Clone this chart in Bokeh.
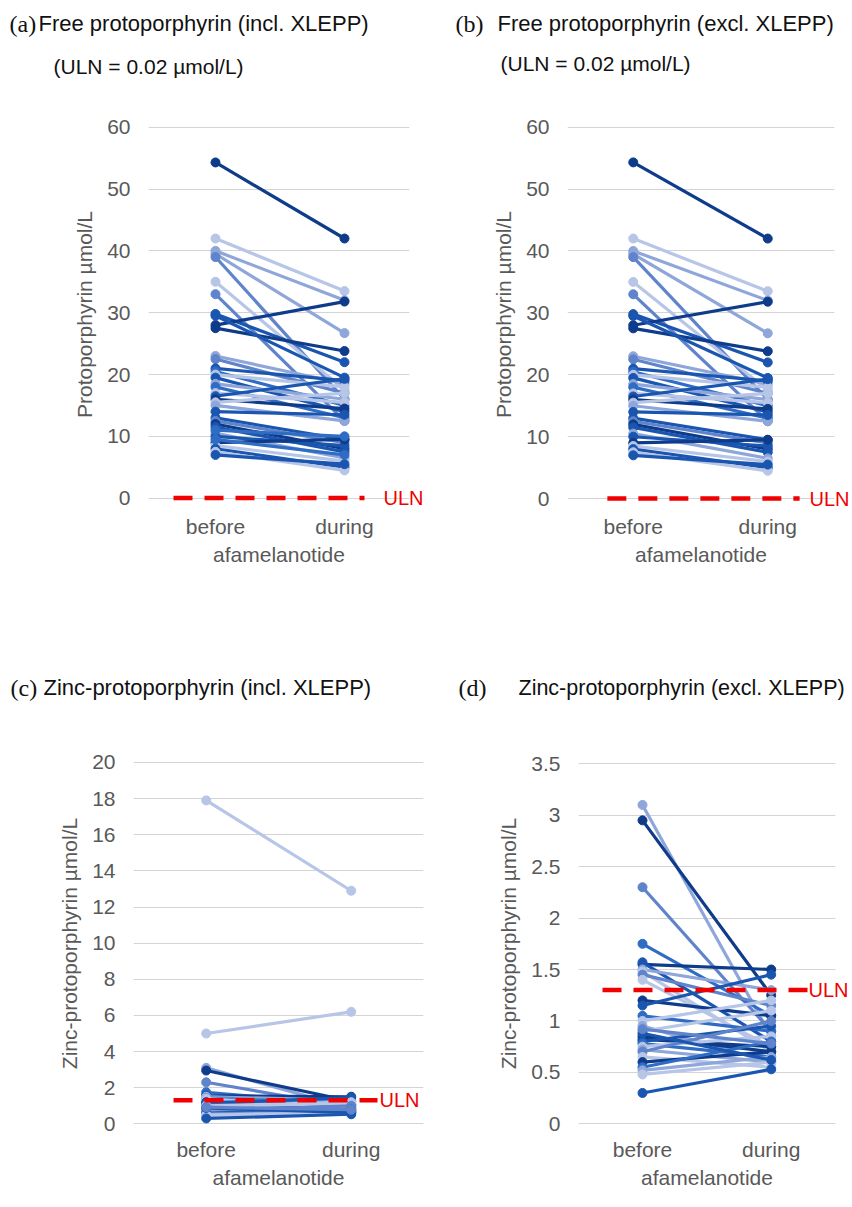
from bokeh.plotting import figure
from bokeh.models import Range1d, FixedTicker, NumeralTickFormatter, LinearAxis
from bokeh.core.properties import value
from bokeh.layouts import column, row
from bokeh.embed import file_html
from bokeh.resources import INLINE

# ---------------- data ----------------
CATEGORIES = ["before", "during"]

# Free protoporphyrin (umol/L), patients without XLEPP
FP_BEFORE_EXCL = [54.3, 42.0, 40.0, 39.5, 39.0, 35.0, 33.0, 29.8, 28.0, 27.5, 29.5, 23.0,
                  22.5, 21.0, 20.5, 20.0, 19.5, 18.5, 18.0, 17.0, 16.5, 16.0, 15.5, 15.0,
                  14.0, 13.0, 12.5, 12.0, 11.5, 10.5, 10.0, 9.0, 8.5, 8.0, 7.5, 7.0]
FP_DURING_EXCL = [42.0, 33.5, 32.0, 26.7, 16.0, 17.5, 12.5, 22.0, 31.8, 23.8, 19.5, 18.5,
                  17.0, 19.0, 15.0, 18.0, 14.0, 16.0, 13.0, 15.5, 19.3, 14.5, 17.0, 12.5,
                  13.5, 9.5, 9.0, 8.0, 7.5, 6.5, 8.5, 9.5, 6.0, 5.0, 4.5, 5.5]
# Free protoporphyrin, XLEPP patients
FP_BEFORE_XLEPP = [11.0, 9.5]
FP_DURING_XLEPP = [10.0, 7.0]

# Zinc-protoporphyrin (umol/L), patients without XLEPP
ZPP_BEFORE_EXCL = [3.10, 2.95, 2.30, 1.75, 1.55, 1.57, 1.50, 1.48, 1.45, 1.40, 1.20, 1.15,
                   1.05, 1.00, 0.95, 0.90, 0.85, 0.82, 0.80, 0.78, 0.75, 0.72, 0.70, 0.65,
                   0.60, 0.55, 0.52, 0.48, 0.30, 0.88, 0.92]
ZPP_DURING_EXCL = [0.85, 1.25, 0.90, 1.05, 1.50, 0.80, 1.30, 0.70, 1.15, 0.75, 1.05, 1.45,
                   0.90, 1.20, 0.60, 1.10, 0.70, 0.75, 0.95, 0.65, 0.85, 0.60, 1.00, 0.55,
                   0.70, 0.80, 0.65, 0.60, 0.53, 0.62, 0.78]
# Zinc-protoporphyrin, XLEPP patients
ZPP_BEFORE_XLEPP = [17.9, 5.0]
ZPP_DURING_XLEPP = [12.9, 6.2]

ULN_FP = 0.02
ULN_ZPP = 1.3

FP_TICKS = [0, 10, 20, 30, 40, 50, 60]
ZPP_C_TICKS = [0, 2, 4, 6, 8, 10, 12, 14, 16, 18, 20]
ZPP_D_TICKS = [0, 0.5, 1, 1.5, 2, 2.5, 3, 3.5]

TITLE_A = ["(a)", "Free protoporphyrin (incl. XLEPP)", "(ULN = 0.02 \u00b5mol/L)"]
TITLE_B = ["(b)", "Free protoporphyrin (excl. XLEPP)", "(ULN = 0.02 \u00b5mol/L)"]
TITLE_C = ["(c)", "Zinc-protoporphyrin (incl. XLEPP)"]
TITLE_D = ["(d)", "Zinc-protoporphyrin (excl. XLEPP)"]

# ---------------- styles ----------------
PALETTE = ["#0E3B8A", "#1A56B0", "#2F6CC4", "#5F84CB", "#8EA6DA", "#B7C5E7"]
FP_SHADE_EXCL = [0, 5, 4, 4, 3, 5, 3, 1, 0, 0, 1, 4, 3, 1, 2, 5, 1, 4, 2, 5, 1, 0, 5, 4,
                 1, 1, 3, 0, 1, 4, 1, 0, 5, 1, 5, 1]
FP_SHADE_XLEPP = [2, 2]
ZPP_SHADE_EXCL = [4, 0, 3, 2, 0, 1, 4, 5, 3, 5, 0, 1, 2, 5, 4, 5, 0, 0, 1, 2, 5, 4, 3, 5,
                  0, 2, 4, 5, 1, 1, 3]
ZPP_SHADE_XLEPP = [5, 5]

SANS = "Liberation Sans"
SERIF = "Liberation Serif"
GREY = "#595959"
RED = "#F00000"
TXT = "#111111"


def panel(fig_w, fig_h, frame_l, frame_r, frame_t, frame_b, px_before, px_during,
          top_val, py_top, py_zero, ticks, tick_fmt, ylabel, befores, durings, shades,
          uln, uln_px0, uln_px1, uln_lab_px):
    u = (px_during - px_before)
    x_start = (frame_l - px_before) / u
    x_end = (frame_r - px_before) / u
    s = (py_zero - py_top) / top_val
    y_start = -(frame_b - py_zero) / s
    y_end = top_val + (py_top - frame_t) / s

    def dx(px):
        return x_start + (px - frame_l) / u

    p = figure(width=fig_w, height=fig_h,
               min_border_left=frame_l, min_border_right=fig_w - frame_r,
               min_border_top=frame_t, min_border_bottom=fig_h - frame_b,
               x_range=Range1d(x_start, x_end), y_range=Range1d(y_start, y_end),
               output_backend="svg", toolbar_location=None)
    p.outline_line_color = None
    p.background_fill_color = "white"
    p.border_fill_color = "white"

    # axes
    p.xaxis.ticker = FixedTicker(ticks=[0, 1])
    p.xaxis.major_label_overrides = {0: CATEGORIES[0], 1: CATEGORIES[1]}
    p.xaxis.axis_label = "afamelanotide"
    p.yaxis.ticker = FixedTicker(ticks=ticks)
    if tick_fmt:
        p.yaxis.formatter = NumeralTickFormatter(format=tick_fmt)
    p.yaxis.axis_label = ylabel
    for ax in (p.xaxis, p.yaxis):
        ax.axis_line_color = None
        ax.major_tick_line_color = None
        ax.minor_tick_line_color = None
        ax.major_tick_out = 0
        ax.major_tick_in = 0
        ax.major_label_text_font = SANS
        ax.major_label_text_font_size = "21px"
        ax.major_label_text_color = GREY
        ax.axis_label_text_font = SANS
        ax.axis_label_text_font_size = "21px"
        ax.axis_label_text_font_style = "normal"
        ax.axis_label_text_color = GREY
    p.yaxis.major_label_standoff = 18
    p.yaxis.axis_label_standoff = 8
    p.xaxis.major_label_standoff = 4
    p.xaxis.axis_label_standoff = 2
    p.xgrid.visible = False
    p.ygrid.ticker = FixedTicker(ticks=ticks)
    p.ygrid.grid_line_color = "#D4D4D4"
    p.ygrid.grid_line_width = 1

    # patient lines
    for b, d, sh in zip(befores, durings, shades):
        c = PALETTE[sh]
        p.line([0, 1], [b, d], line_color=c, line_width=3.2)
        p.scatter([0, 1], [b, d], size=9, fill_color=c, line_color=c, marker="circle")

    # ULN reference line
    p.line([dx(uln_px0), dx(uln_px1)], [uln, uln], line_color=RED, line_width=4.5,
           line_dash="19 12")
    # ULN label: a right-hand axis with a single tick at the ULN value
    right_room = fig_w - frame_r
    standoff = min(uln_lab_px - frame_r, right_room - 42)
    ra = LinearAxis(ticker=FixedTicker(ticks=[uln]),
                    major_label_overrides={uln: "ULN"})
    ra.axis_line_color = None
    ra.major_tick_line_color = None
    ra.minor_tick_line_color = None
    ra.major_tick_out = 0
    ra.major_tick_in = 0
    ra.major_label_standoff = int(round(standoff))
    ra.major_label_text_font = SANS
    ra.major_label_text_font_size = "20px"
    ra.major_label_text_color = RED
    p.add_layout(ra, "right")
    return p


def title_strip(width, height, items):
    p = figure(width=width, height=height, x_range=Range1d(0, width),
               y_range=Range1d(height, 0), min_border=0,
               output_backend="svg", toolbar_location=None)
    p.axis.visible = False
    p.grid.visible = False
    p.outline_line_color = None
    for (px, py, txt, font, size) in items:
        p.text(x=[px], y=[py], text=[txt], text_font=value(font),
               text_font_size=value(size), text_color=TXT,
               text_baseline="middle", text_align="left")
    return p


FP_A_BEFORE = FP_BEFORE_EXCL + FP_BEFORE_XLEPP
FP_A_DURING = FP_DURING_EXCL + FP_DURING_XLEPP
FP_A_SHADE = FP_SHADE_EXCL + FP_SHADE_XLEPP
ZPP_C_BEFORE = ZPP_BEFORE_EXCL + ZPP_BEFORE_XLEPP
ZPP_C_DURING = ZPP_DURING_EXCL + ZPP_DURING_XLEPP
ZPP_C_SHADE = ZPP_SHADE_EXCL + ZPP_SHADE_XLEPP

T_TOP = 90
T_BOT = 110

top_titles = title_strip(852, T_TOP, [
    (9, 23, TITLE_A[0], SERIF, "24px"),
    (38, 23, TITLE_A[1], SANS, "22px"),
    (53, 66, TITLE_A[2], SANS, "21px"),
    (455, 23, TITLE_B[0], SERIF, "24px"),
    (497, 23, TITLE_B[1], SANS, "22px"),
    (500, 63, TITLE_B[2], SANS, "21px"),
])
bot_titles = title_strip(852, T_BOT, [
    (10, 84, TITLE_C[0], SERIF, "24px"),
    (43, 84, TITLE_C[1], SANS, "22px"),
    (458, 84, TITLE_D[0], SERIF, "24px"),
    (518, 84, TITLE_D[1], SANS, "21.5px"),
])

H1 = 603 - T_TOP
H2 = 604 - T_BOT

pa = panel(426, H1, 148, 409, 118 - T_TOP, 510 - T_TOP, 215, 344, 60,
           126.7 - T_TOP, 497.7 - T_TOP, FP_TICKS, None,
           "Protoporphyrin \u00b5mol/L", FP_A_BEFORE, FP_A_DURING, FP_A_SHADE,
           ULN_FP, 173, 364, 383)

pb = panel(426, H1, 141, 409, 118 - T_TOP, 515 - T_TOP, 207, 342, 60,
           126.7 - T_TOP, 503.0 - T_TOP, FP_TICKS, None,
           "Protoporphyrin \u00b5mol/L", FP_BEFORE_EXCL, FP_DURING_EXCL, FP_SHADE_EXCL,
           ULN_FP, 181, 374, 387)

pc = panel(426, H2, 133, 423, 148 - T_BOT, 530 - T_BOT, 205.7, 350.7, 20,
           157.0 - T_BOT, 520.3 - T_BOT, ZPP_C_TICKS, None,
           "Zinc-protoporphyrin \u00b5mol/L", ZPP_C_BEFORE, ZPP_C_DURING, ZPP_C_SHADE,
           ULN_ZPP, 173, 377, 379)

pd_ = panel(426, H2, 152, 409, 150 - T_BOT, 531 - T_BOT, 216, 344.7, 3.5,
            160.3 - T_BOT, 521.3 - T_BOT, ZPP_D_TICKS, "0.[0]",
            "Zinc-protoporphyrin \u00b5mol/L", ZPP_BEFORE_EXCL, ZPP_DURING_EXCL, ZPP_SHADE_EXCL,
            ULN_ZPP, 176, 381, 382)

layout = column(top_titles, row(pa, pb), bot_titles, row(pc, pd_))
open("out.html", "w").write(file_html(layout, INLINE))
